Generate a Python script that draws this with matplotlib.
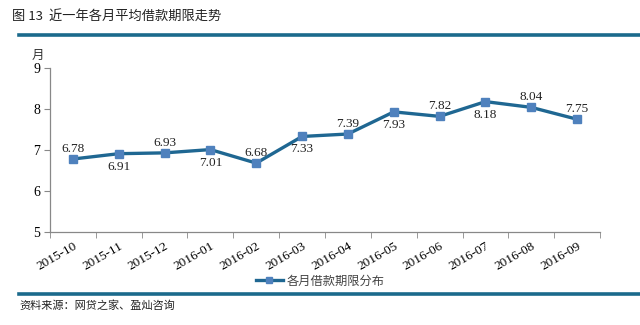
import numpy as np
import matplotlib.pyplot as plt
from matplotlib.lines import Line2D

plt.rcParams['font.family'] = ['Noto Sans CJK SC', 'DejaVu Sans']

# ----------------------------
# Datos
# ----------------------------
months = ["2015-10", "2015-11", "2015-12", "2016-01", "2016-02", "2016-03",
          "2016-04", "2016-05", "2016-06", "2016-07", "2016-08", "2016-09"]
term = [6.78, 6.91, 6.93, 7.01, 6.68, 7.33, 7.39, 7.93, 7.82, 8.18, 8.04, 7.75]
label_above = [True, False, True, False, True, False, True, False, True, False, True, True]
y_ticks = [5, 6, 7, 8, 9]

LINE_C = "#1f6792"
MARK_C = "#4f81bd"
RULE_C = "#1b6a8c"
SERIF = ["Liberation Serif", "DejaVu Serif"]


def main() -> None:
    fig = plt.figure(figsize=(6.4, 3.25), dpi=100)
    ax = fig.add_axes([50 / 640, 1 - 232 / 325, 550 / 640, 164 / 325])

    x = np.arange(len(months))
    ax.plot(x, term, color=LINE_C, lw=2.4, marker="s", ms=5.5,
            mfc=MARK_C, mec=MARK_C, zorder=3)

    # Etiquetas de datos
    for xi, v, up in zip(x, term, label_above):
        dy = 3 if up else -5
        ax.annotate(f"{v:.2f}", (xi, v), xytext=(0, dy), textcoords="offset points",
                    ha="center", va="bottom" if up else "top",
                    fontsize=9.5, family=SERIF, color="#222222")

    ax.set_xlim(-0.5, len(months) - 0.5)
    ax.set_ylim(5, 9)
    ax.set_yticks(y_ticks)
    ax.set_yticklabels([str(t) for t in y_ticks], family=SERIF, fontsize=10)
    ax.set_xticks(x)
    ax.set_xticklabels(months, rotation=30, ha="right", va="top",
                       rotation_mode="anchor", family=SERIF, fontsize=9.5)
    ax.set_xticks(np.arange(-0.5, len(months)), minor=True)
    ax.tick_params(axis="x", which="major", length=0, pad=6)
    ax.tick_params(axis="x", which="minor", length=4, color="#888888", direction="out")
    ax.tick_params(axis="y", length=4, color="#888888", pad=3)

    for s in ("top", "right"):
        ax.spines[s].set_visible(False)
    for s in ("left", "bottom"):
        ax.spines[s].set_color("#888888")
        ax.spines[s].set_linewidth(0.9)

    fig.text(38 / 640, 1 - 55 / 325, "月", ha="center", va="center",
             fontsize=9, color="#333333")

    # Leyenda
    handle = Line2D([], [], color=LINE_C, lw=2.4, marker="s", ms=5,
                    mfc=MARK_C, mec=MARK_C)
    fig.legend([handle], ["各月借款期限分布"], loc="center",
               bbox_to_anchor=(320 / 640, 1 - 281 / 325), frameon=False,
               fontsize=8.8, handlelength=2.2, handletextpad=0.3,
               labelcolor="#444444")

    # Título, reglas y fuente
    fig.text(12 / 640, 1 - 16 / 325, "图 13  近一年各月平均借款期限走势",
             fontsize=9.5, color="#222222", va="center", ha="left")
    fig.add_artist(Line2D([19 / 640, 1.0], [1 - 35 / 325] * 2, color=RULE_C, lw=2.6))
    fig.add_artist(Line2D([19 / 640, 1.0], [1 - 294 / 325] * 2, color=RULE_C, lw=2.6))
    fig.text(19 / 640, 1 - 306 / 325, "资料来源：网贷之家、盈灿咨询",
             fontsize=8, color="#222222", va="center", ha="left")

    fig.savefig("out.png", dpi=100)


if __name__ == "__main__":
    main()
